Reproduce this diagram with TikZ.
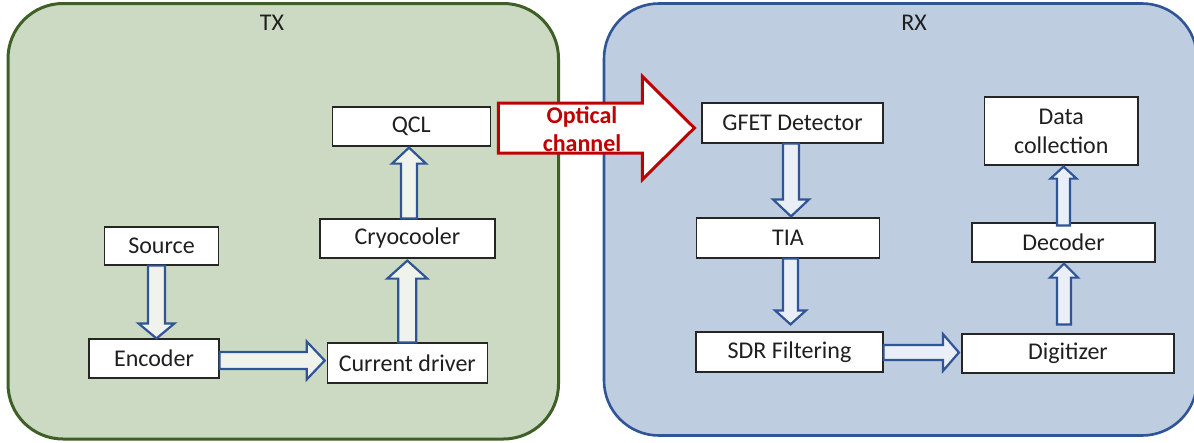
\documentclass[tikz,border=0pt]{standalone}
\usepackage{fontspec}
\setmainfont{Carlito}
\usetikzlibrary{calc}
\definecolor{txfill}{RGB}{204,218,196}
\definecolor{txline}{RGB}{62,96,38}
\definecolor{rxfill}{RGB}{191,205,225}
\definecolor{rxline}{RGB}{47,85,151}
\definecolor{arrowblue}{RGB}{47,85,151}
\definecolor{txarrowfill}{RGB}{240,243,236}
\definecolor{rxarrowfill}{RGB}{234,239,247}
\definecolor{optred}{RGB}{192,0,0}
\newcommand\blockarrow[6][]{%
  \path let \p1=($(#3)-(#2)$) in \pgfextra{\pgfmathsetmacro\baang{atan2(\y1,\x1)}\pgfmathsetmacro\balen{veclen(\x1,\y1)}\xdef\baang{\baang}\xdef\balen{\balen}};
  \draw[barrow,#1,shift={(#2)},rotate=\baang] (0pt,-#4pt) -- ({\balen pt-#6pt},-#4pt) -- ({\balen pt-#6pt},-#5pt) -- (\balen pt,0pt) -- ({\balen pt-#6pt},#5pt) -- ({\balen pt-#6pt},#4pt) -- (0pt,#4pt) -- cycle;
}
\begin{document}
\begin{tikzpicture}[x=1pt,y=-1pt,
  every node/.style={font=\fontsize{24}{29}\selectfont, text=black!88},
  box/.style={draw=black!85, line width=1.2pt, fill=white, inner sep=0pt},
  barrow/.style={draw=arrowblue, line width=2.2pt, line join=miter},
  txarrow/.style={fill=txarrowfill},
  rxarrow/.style={fill=rxarrowfill},
  optarrow/.style={draw=optred, fill=white, line width=3pt},
  optlabel/.style={font=\fontsize{24}{28}\selectfont\bfseries, text=optred, align=center}]
\useasboundingbox (0,0) rectangle (1194,442);
\clip (0,0) rectangle (1194,442);
\fill[white] (0,0) rectangle (1194,442);
% panels
\draw[fill=txfill, draw=txline, line width=3pt, rounded corners=55pt] (8,3.5) rectangle (558.5,439);
\draw[fill=rxfill, draw=rxline, line width=2.6pt, rounded corners=55pt] (604,3.5) rectangle (1197,435.5);
\node (txl) at (272,23) {TX};
\node (rxl) at (914,23) {RX};
% TX blocks
\node[box, minimum width=158pt, minimum height=39pt] (qcl) at (411.3,126.5) {QCL};
\node[box, minimum width=175pt, minimum height=39pt] (cryo) at (407.5,238.5) {Cryocooler};
\node[box, minimum width=114pt, minimum height=38pt] (src) at (161.5,246) {Source};
\node[box, minimum width=130pt, minimum height=39pt] (enc) at (154,358.5) {Encoder};
\node[box, minimum width=160pt, minimum height=40pt] (drv) at (407.3,363) {Current driver};
% RX blocks
\node[box, minimum width=181pt, minimum height=40pt] (gfet) at (792.5,123) {GFET Detector};
\node[box, minimum width=183.5pt, minimum height=40pt] (tia) at (788,238) {TIA};
\node[box, minimum width=187pt, minimum height=40pt] (sdr) at (789.5,352) {SDR Filtering};
\node[box, minimum width=212pt, minimum height=39pt] (dig) at (1068,353.5) {Digitizer};
\node[box, minimum width=183pt, minimum height=39pt] (dec) at (1063.5,242.5) {Decoder};
\node[box, minimum width=153.5pt, minimum height=68pt, align=center] (data) at (1061.3,131) {Data\\collection};
% connector end points
\coordinate (a1s) at ($(src.south)+(-5,0)$);
\coordinate (a1e) at (a1s |- enc.north);
\coordinate (a2s) at ($(enc.east)+(0,2)$);
\coordinate (a2e) at ($(a2s -| drv.west)+(-2,0)$);
\coordinate (a3s) at (drv.north);
\coordinate (a3e) at ($(drv.north |- cryo.south)+(0,2)$);
\coordinate (a4s) at ($(cryo.north)+(1.5,0)$);
\coordinate (a4e) at ($(a4s |- qcl.south)+(0,1)$);
\coordinate (a5s) at ($(gfet.south)+(-1.5,0)$);
\coordinate (a5e) at ($(a5s |- tia.north)+(0,-1)$);
\coordinate (a6s) at ($(tia.south)+(2.5,0)$);
\coordinate (a6e) at ($(a6s |- sdr.north)+(0,-7)$);
\coordinate (a7s) at ($(sdr.east)+(0,0.5)$);
\coordinate (a7e) at ($(a7s -| dig.west)+(-2.5,0)$);
\coordinate (a8s) at ($(dig.north)+(-4,-9)$);
\coordinate (a8e) at ($(a8s |- dec.south)+(0,1)$);
\coordinate (a9s) at ($(dec.north)+(0,3)$);
\coordinate (a9e) at ($(a9s |- data.south)+(0,1)$);
\coordinate (ops) at ($(qcl.east)+(7.5,1.5)$);
\coordinate (ope) at ($(ops -| gfet.west)+(-7,0)$);
% block arrows
\blockarrow[txarrow]{a1s}{a1e}{8.5}{18}{15}
\blockarrow[txarrow]{a2s}{a2e}{8.5}{19}{18}
\blockarrow[txarrow]{a3s}{a3e}{9}{20}{18}
\blockarrow[txarrow]{a4s}{a4e}{8}{17}{16}
\blockarrow[rxarrow]{a5s}{a5e}{8}{18}{17}
\blockarrow[rxarrow]{a6s}{a6e}{7.5}{15.5}{14}
\blockarrow[rxarrow]{a7s}{a7e}{7.5}{18.5}{16}
\blockarrow[rxarrow]{a8s}{a8e}{7}{14}{14}
\blockarrow[rxarrow]{a9s}{a9e}{6.5}{13}{12}
\blockarrow[optarrow]{ops}{ope}{25}{51.5}{52}
\node[optlabel] (opt) at (582,129) {Optical\\channel};
\end{tikzpicture}
\end{document}
